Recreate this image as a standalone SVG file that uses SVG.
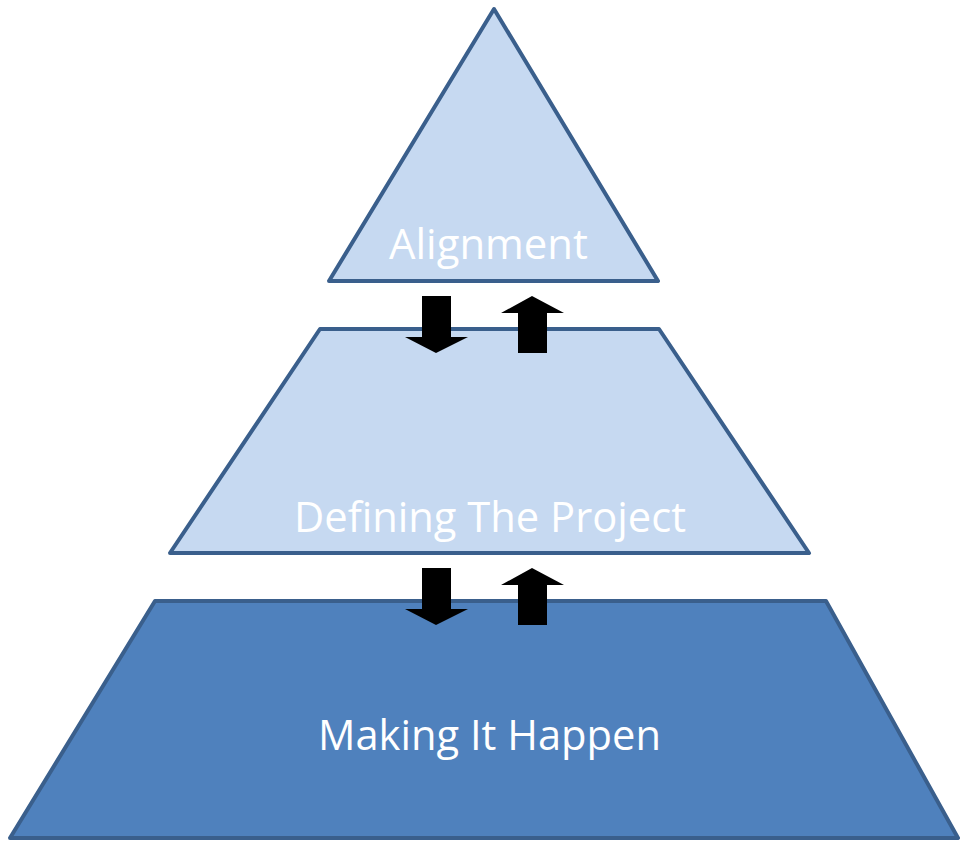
<svg xmlns="http://www.w3.org/2000/svg" width="963" height="842" viewBox="0 0 963 842">
  <style>
    .tier { stroke: #3A5F8C; stroke-width: 4; stroke-linejoin: round; }
    .light { fill: #C6D9F1; }
    .dark { fill: #4F81BD; }
    .label { font-family: "Open Sans", "Noto Sans", "Liberation Sans", sans-serif; font-size: 42px; fill: #FFFFFF; }
    .arrow { fill: #000000; }
  </style>
  <rect width="963" height="842" fill="#FFFFFF"/>

  <g id="alignment">
    <polygon class="tier light" points="494,9 658,281 329,281"/>
    <text class="label" x="389" y="259" textLength="199" lengthAdjust="spacingAndGlyphs">Alignment</text>
  </g>

  <g id="defining-the-project">
    <polygon class="tier light" points="320,329 659,329 809,553 170,553"/>
    <text class="label" x="294" y="532" textLength="392" lengthAdjust="spacingAndGlyphs">Defining The Project</text>
  </g>

  <g id="making-it-happen">
    <polygon class="tier dark" points="155,601 826,601 958,838 10,838"/>
    <text class="label" x="318" y="750" textLength="343" lengthAdjust="spacingAndGlyphs">Making It Happen</text>
  </g>

  <g id="connectors">
    <!-- between Alignment and Defining The Project -->
    <polygon class="arrow" points="422,296 451,296 451,337 468,337 436,353 405,337 422,337"/>
    <polygon class="arrow" points="532,296 564,313 547,313 547,353 518,353 518,313 501,313"/>
    <!-- between Defining The Project and Making It Happen -->
    <polygon class="arrow" points="422,568 451,568 451,609 468,609 436,625 405,609 422,609"/>
    <polygon class="arrow" points="532,568 564,585 547,585 547,625 518,625 518,585 501,585"/>
  </g>
</svg>
